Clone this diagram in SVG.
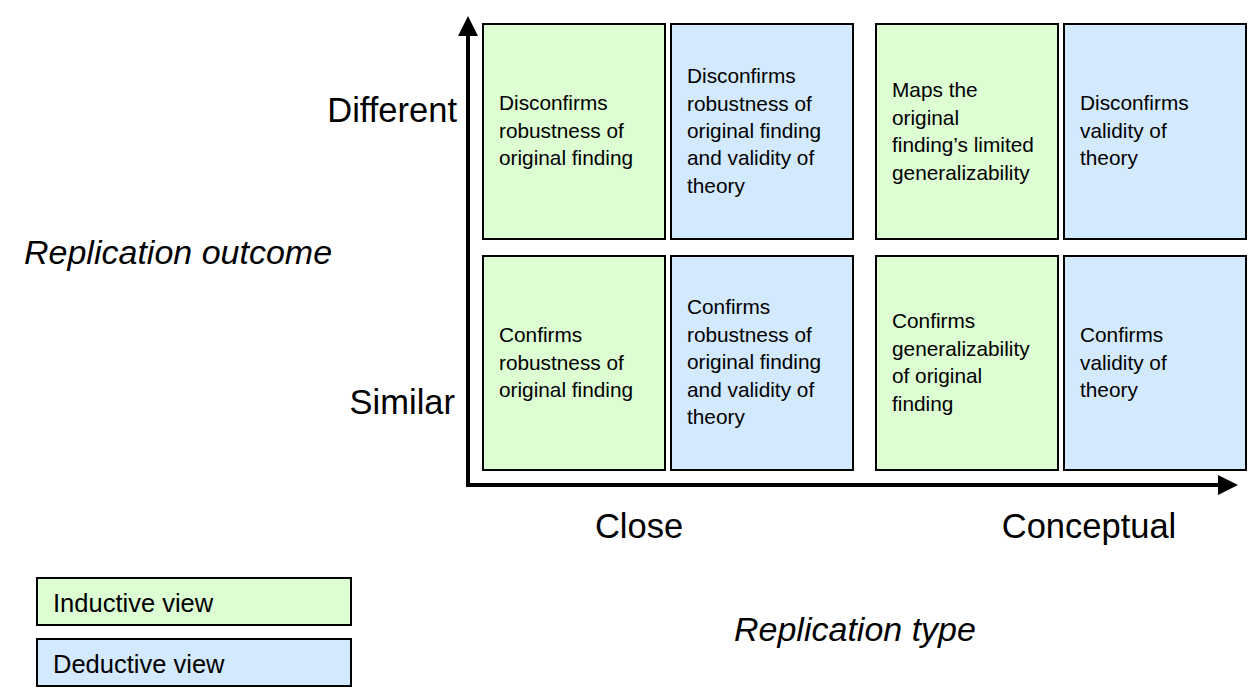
<svg xmlns="http://www.w3.org/2000/svg" width="1255" height="698" viewBox="0 0 1255 698">
<style>
.ind{fill:#DDFDD3;stroke:#000;stroke-width:2}
.ded{fill:#D3E9FD;stroke:#000;stroke-width:2}
.ct{font-family:"Liberation Sans",Arial,sans-serif;font-size:20.8px;fill:#000}
.big{font-family:"Liberation Sans",Arial,sans-serif;font-size:34.5px;fill:#000}
.ital{font-family:"Liberation Sans",Arial,sans-serif;font-size:34px;font-style:italic;fill:#000}
.leg{font-family:"Liberation Sans",Arial,sans-serif;font-size:25.5px;fill:#000}
.axis{stroke:#000;stroke-width:4;fill:none}
</style>
<defs>
<marker id="arr" viewBox="0 0 10 10" refX="2" refY="5" markerWidth="5" markerHeight="5" markerUnits="strokeWidth" orient="auto">
<path d="M0,0 L10,5 L0,10 Z" fill="#000"/>
</marker>
</defs>
<rect width="1255" height="698" fill="#fff"/>
<g id="connectors">
<line class="axis" x1="468" y1="487" x2="468" y2="32" marker-end="url(#arr)"/>
<line class="axis" x1="466" y1="485" x2="1222" y2="485" marker-end="url(#arr)"/>
</g>
<g id="cell-close-different-inductive">
<rect class="ind" x="483" y="24" width="182" height="215"/>
<text class="ct"><tspan x="499" y="110">Disconfirms</tspan><tspan x="499" y="138">robustness of</tspan><tspan x="499" y="165">original finding</tspan></text>
</g>
<g id="cell-close-different-deductive">
<rect class="ded" x="671" y="24" width="182" height="215"/>
<text class="ct"><tspan x="687" y="83">Disconfirms</tspan><tspan x="687" y="111">robustness of</tspan><tspan x="687" y="138">original finding</tspan><tspan x="687" y="165">and validity of</tspan><tspan x="687" y="193">theory</tspan></text>
</g>
<g id="cell-conceptual-different-inductive">
<rect class="ind" x="876" y="24" width="182" height="215"/>
<text class="ct"><tspan x="892" y="97">Maps the</tspan><tspan x="892" y="125">original</tspan><tspan x="892" y="152">finding’s limited</tspan><tspan x="892" y="180">generalizability</tspan></text>
</g>
<g id="cell-conceptual-different-deductive">
<rect class="ded" x="1064" y="24" width="182" height="215"/>
<text class="ct"><tspan x="1080" y="110">Disconfirms</tspan><tspan x="1080" y="138">validity of</tspan><tspan x="1080" y="165">theory</tspan></text>
</g>
<g id="cell-close-similar-inductive">
<rect class="ind" x="483" y="256" width="182" height="214"/>
<text class="ct"><tspan x="499" y="342">Confirms</tspan><tspan x="499" y="370">robustness of</tspan><tspan x="499" y="397">original finding</tspan></text>
</g>
<g id="cell-close-similar-deductive">
<rect class="ded" x="671" y="256" width="182" height="214"/>
<text class="ct"><tspan x="687" y="314">Confirms</tspan><tspan x="687" y="342">robustness of</tspan><tspan x="687" y="369">original finding</tspan><tspan x="687" y="397">and validity of</tspan><tspan x="687" y="424">theory</tspan></text>
</g>
<g id="cell-conceptual-similar-inductive">
<rect class="ind" x="876" y="256" width="182" height="214"/>
<text class="ct"><tspan x="892" y="328">Confirms</tspan><tspan x="892" y="356">generalizability</tspan><tspan x="892" y="383">of original</tspan><tspan x="892" y="411">finding</tspan></text>
</g>
<g id="cell-conceptual-similar-deductive">
<rect class="ded" x="1064" y="256" width="182" height="214"/>
<text class="ct"><tspan x="1080" y="342">Confirms</tspan><tspan x="1080" y="370">validity of</tspan><tspan x="1080" y="397">theory</tspan></text>
</g>
<g id="axis-labels">
<text class="big" x="457" y="122" text-anchor="end">Different</text>
<text class="big" x="455" y="414" text-anchor="end">Similar</text>
<text class="ital" x="24" y="264">Replication outcome</text>
<text class="big" x="639" y="538" text-anchor="middle">Close</text>
<text class="big" x="1089" y="538" text-anchor="middle">Conceptual</text>
<text class="ital" x="734" y="641">Replication type</text>
</g>
<g id="legend-inductive">
<rect class="ind" x="37" y="578" width="314" height="47"/>
<text class="leg" x="53" y="612">Inductive view</text>
</g>
<g id="legend-deductive">
<rect class="ded" x="37" y="639" width="314" height="47"/>
<text class="leg" x="53" y="673">Deductive view</text>
</g>
</svg>
